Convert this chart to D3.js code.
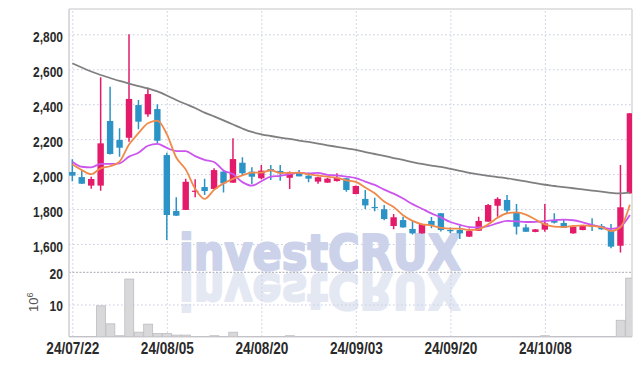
<!DOCTYPE html>
<html><head><meta charset="utf-8">
<script src="https://cdn.jsdelivr.net/npm/d3@7"></script>
<style>
html,body{margin:0;padding:0;background:#fff;}
svg{display:block;}
</style></head><body>
<svg id="chart" width="642" height="366"></svg>
<script>
const dates = ["24/07/22","24/07/23","24/07/24","24/07/25","24/07/26","24/07/29","24/07/30","24/07/31","24/08/01","24/08/02",
"24/08/05","24/08/06","24/08/07","24/08/08","24/08/09","24/08/12","24/08/13","24/08/14","24/08/16","24/08/19",
"24/08/20","24/08/21","24/08/22","24/08/23","24/08/26","24/08/27","24/08/28","24/08/29","24/08/30","24/09/02",
"24/09/03","24/09/04","24/09/05","24/09/06","24/09/09","24/09/10","24/09/11","24/09/12","24/09/13","24/09/19",
"24/09/20","24/09/23","24/09/24","24/09/25","24/09/26","24/09/27","24/09/30","24/10/02","24/10/04","24/10/07",
"24/10/08","24/10/10","24/10/11","24/10/14","24/10/15","24/10/16","24/10/17","24/10/18","24/10/21","24/10/22"];
const opens = [2012,1983,1934,1934,2304,2195,2208,2395,2342,2372,
2109,1789,1795,1903,1926,1915,2014,1951,2065,2014,
1976,2029,2018,1979,2010,1991,1957,1951,1960,1976,
1886,1858,1812,1799,1703,1737,1686,1661,1732,1776,
1680,1680,1642,1676,1728,1819,1852,1779,1695,1669,
1682,1737,1720,1661,1680,1710,1703,1676,1590,1890];
const highs = [2085,2019,1985,2554,2500,2262,2800,2424,2494,2399,
2122,1867,1974,1970,1974,2033,2023,2205,2096,2039,
2052,2052,2052,2015,2023,2008,1985,1979,2005,1978,
1935,1909,1865,1823,1772,1756,1732,1716,1754,1778,
1695,1703,1688,1756,1829,1867,1880,1829,1713,1686,
1829,1776,1737,1701,1705,1747,1714,1714,2052,2350];
const lows = [1959,1943,1916,1905,2112,2100,2185,2256,2328,2176,
1623,1760,1795,1867,1880,1913,1894,1950,1995,1942,
1970,1966,1962,1915,1987,1953,1945,1950,1958,1899,
1884,1800,1787,1736,1684,1693,1655,1659,1690,1672,
1661,1629,1640,1675,1727,1756,1772,1655,1668,1667,
1670,1718,1691,1659,1678,1674,1682,1575,1552,1888];
const closes = [1991,1945,1972,2176,2115,2151,2430,2300,2458,2191,
1766,1762,1956,1905,1903,2023,1947,2086,2005,1985,
2020,2016,2005,2010,1987,1974,1982,1974,1979,1909,
1932,1821,1810,1743,1753,1695,1661,1714,1709,1680,
1675,1661,1674,1732,1823,1858,1791,1699,1670,1684,
1718,1722,1693,1699,1703,1699,1684,1585,1810,2348];
const volumes = [0.05,0.05,0.05,9.6,4.0,0.3,17.9,1.4,3.9,1.0,
1.0,0.5,0.5,0.1,0.1,0.3,0.1,1.4,0.1,0.1,
0.05,0.05,0.05,0.3,0.05,0.05,0.05,0.05,0.05,0.05,
0.05,0.05,0.05,0.05,0.05,0.05,0.05,0.05,0.05,0.05,
0.05,0.05,0.05,0.05,0.05,0.05,0.05,0.05,0.05,0.05,
0.3,0.05,0.05,0.05,0.05,0.05,0.05,0.1,5.1,18.2];
const ma5 = [2056,2023,2000,2033,2045,2072,2169,2234,2291,2306,
2229,2095,2027,1916,1858,1910,1947,1973,1993,2009,
2009,2022,2006,2007,2008,1998,1992,1985,1979,1964,
1955,1923,1890,1843,1812,1764,1732,1713,1706,1692,
1688,1688,1680,1684,1713,1750,1776,1781,1768,1740,
1712,1699,1697,1703,1707,1703,1696,1674,1696,1825];
const ma10 = [2071,2042,2039,2058,2058,2062,2100,2122,2162,2173,
2150,2132,2131,2103,2082,2069,2021,2000,1954,1934,
1959,1985,1990,2000,2008,2004,2007,1996,1993,1986,
1977,1957,1938,1911,1888,1860,1828,1802,1775,1752,
1726,1710,1697,1695,1702,1719,1732,1730,1726,1727,
1731,1737,1739,1736,1724,1708,1697,1686,1700,1766];
const maLong = [2634,2610,2587,2567,2550,2533,2518,2504,2490,2473,
2450,2424,2401,2378,2352,2330,2307,2284,2261,2241,
2228,2218,2209,2201,2192,2184,2175,2165,2156,2147,
2138,2126,2115,2104,2092,2081,2069,2058,2049,2041,
2030,2019,2007,1998,1990,1983,1976,1967,1958,1948,
1939,1932,1925,1919,1912,1906,1900,1893,1890,1895];
const priceTicks = [1600,1800,2000,2200,2400,2600,2800];
const volumeTicks = [10,20];
const dateTicks = ["24/07/22","24/08/05","24/08/20","24/09/03","24/09/20","24/10/08"];
const watermark = "investCRUX";

const plotL = 69, plotR = 632, plotT = 9, divY = 272.3, volB = 336.7;
const upColor = "#e31b6a", downColor = "#2c93c6";
const labelFont = "'Liberation Sans',Arial,sans-serif";

const x = d3.scalePoint().domain(dates).range([72.3, 629.9]);
const step = x.step();
const y = d3.scaleLinear().domain([1600, 2800]).range([244, 34.3]);
const yv = d3.scaleLinear().domain([0, 20]).range([volB, divY]);

const svg = d3.select("#chart");
const defs = svg.append("defs");
defs.append("clipPath").attr("id", "clip")
  .append("rect").attr("x", plotL).attr("y", plotT).attr("width", plotR - plotL).attr("height", volB - plotT);

// grid
const gridColor = "#c6cbe0";
svg.append("g").attr("transform", `translate(${plotL},0)`)
  .call(d3.axisLeft(y).tickValues(priceTicks).tickSize(-(plotR - plotL)).tickFormat(""))
  .call(g => g.select(".domain").remove())
  .call(g => g.selectAll("line").attr("stroke", gridColor).attr("stroke-dasharray", "1.5,2.5"));
svg.append("g").attr("transform", `translate(${plotL},0)`)
  .call(d3.axisLeft(yv).tickValues([10]).tickSize(-(plotR - plotL)).tickFormat(""))
  .call(g => g.select(".domain").remove())
  .call(g => g.selectAll("line").attr("stroke", gridColor).attr("stroke-dasharray", "1.5,2.5"));
svg.append("g").attr("transform", `translate(0,${volB})`)
  .call(d3.axisBottom(x).tickValues(dateTicks).tickSize(-(volB - plotT)).tickFormat(""))
  .call(g => g.select(".domain").remove())
  .call(g => g.selectAll("line").attr("stroke", gridColor).attr("stroke-dasharray", "1.5,2.5"));

// watermark (text + mirrored reflection via <use>)
const wm = svg.append("g").attr("clip-path", "url(#clip)");
wm.append("text").attr("id", "wmText").attr("x", 179).attr("y", divY - 2)
  .attr("textLength", 282).attr("lengthAdjust", "spacingAndGlyphs")
  .style("font-family", "'DejaVu Sans',sans-serif").style("font-weight", "bold").style("font-size", "50px")
  .attr("fill", "#cbd2e9").attr("stroke", "#cbd2e9").attr("stroke-width", 2.2).attr("stroke-linejoin", "round")
  .text(watermark);
wm.append("use").attr("href", "#wmText")
  .attr("transform", `translate(0,${2 * divY}) scale(1,-1)`)
  .attr("opacity", 0.5);

// divider
svg.append("line").attr("x1", plotL).attr("x2", plotR).attr("y1", divY).attr("y2", divY)
  .attr("stroke", "#a9abb3").attr("stroke-dasharray", "2,1.5");

// borders
svg.append("line").attr("x1", plotL).attr("x2", plotR).attr("y1", plotT).attr("y2", plotT).attr("stroke", "#d9d9d9").attr("stroke-width", 1.5);
svg.append("line").attr("x1", plotR).attr("x2", plotR).attr("y1", plotT).attr("y2", volB).attr("stroke", "#d9d9d9").attr("stroke-width", 1.5);
svg.append("line").attr("x1", plotL).attr("x2", plotL).attr("y1", plotT).attr("y2", volB).attr("stroke", "#cfcfd4").attr("stroke-width", 1.5);
svg.append("line").attr("x1", plotL).attr("x2", plotR).attr("y1", volB).attr("y2", volB).attr("stroke", "#cfcfd4").attr("stroke-width", 1.5);

const body = svg.append("g").attr("clip-path", "url(#clip)");

// volume bars
body.append("g").selectAll("rect").data(dates).join("rect")
  .attr("x", d => x(d) - step / 2 + 0.5)
  .attr("width", step - 0.5)
  .attr("y", (d, i) => yv(volumes[i]))
  .attr("height", (d, i) => volB - yv(volumes[i]))
  .attr("fill", "#d8d8da").attr("stroke", "#bdbdc2").attr("stroke-width", 0.8);

// candles
const cg = body.append("g").selectAll("g").data(dates).join("g");
cg.append("line")
  .attr("x1", d => x(d)).attr("x2", d => x(d))
  .attr("y1", (d, i) => y(highs[i])).attr("y2", (d, i) => y(lows[i]))
  .attr("stroke", (d, i) => closes[i] >= opens[i] ? upColor : downColor).attr("stroke-width", 1.5);
cg.append("rect")
  .attr("x", d => x(d) - 3.2).attr("width", 6.4)
  .attr("y", (d, i) => y(Math.max(opens[i], closes[i])))
  .attr("height", (d, i) => Math.max(1.2, Math.abs(y(opens[i]) - y(closes[i]))))
  .attr("fill", (d, i) => closes[i] >= opens[i] ? upColor : downColor);

// moving averages
const lineGen = arr => d3.line().x((d, i) => x(dates[i])).y(d => y(d)).curve(d3.curveMonotoneX)(arr);
body.append("path").attr("d", lineGen(maLong)).attr("fill", "none").attr("stroke", "#7f7f80").attr("stroke-width", 1.8);
body.append("path").attr("d", lineGen(ma10)).attr("fill", "none").attr("stroke", "#cc55ee").attr("stroke-width", 1.8);
body.append("path").attr("d", lineGen(ma5)).attr("fill", "none").attr("stroke", "#f08a4b").attr("stroke-width", 1.8);

// condense label glyphs horizontally
function condense(sel, k) {
  sel.each(function () {
    const w = this.getComputedTextLength();
    d3.select(this).attr("textLength", (w * k).toFixed(1)).attr("lengthAdjust", "spacingAndGlyphs");
  });
}

// axes labels
svg.append("g").attr("transform", `translate(${plotL},0)`)
  .call(d3.axisLeft(y).tickValues(priceTicks).tickSize(0).tickPadding(6).tickFormat(d3.format(",")))
  .call(g => g.select(".domain").remove())
  .call(g => g.selectAll("text").attr("dy", "0.47em").attr("fill", "#2a2a2a")
    .style("font-family", labelFont).style("font-weight", "bold").style("font-size", "15px").call(condense, 0.8));
svg.append("g").attr("transform", `translate(${plotL},0)`)
  .call(d3.axisLeft(yv).tickValues(volumeTicks).tickSize(0).tickPadding(6))
  .call(g => g.select(".domain").remove())
  .call(g => g.selectAll("text").attr("dy", "0.4em").attr("fill", "#2a2a2a")
    .style("font-family", labelFont).style("font-weight", "bold").style("font-size", "15px").call(condense, 0.8));
svg.append("g").attr("transform", `translate(0,${volB})`)
  .call(d3.axisBottom(x).tickValues(dateTicks).tickSize(0).tickPadding(6))
  .call(g => g.select(".domain").remove())
  .call(g => g.selectAll("text").attr("fill", "#2a2a2a")
    .style("font-family", labelFont).style("font-weight", "bold").style("font-size", "16px").call(condense, 0.85));

// volume unit
const unit = svg.append("text").attr("transform", "translate(37.5,312) rotate(-90)")
  .style("font-family", "'Liberation Sans',sans-serif").style("font-size", "13px").attr("fill", "#555");
unit.append("tspan").text("10");
unit.append("tspan").attr("dy", "-5").style("font-size", "9px").text("6");
</script>
</body></html>
